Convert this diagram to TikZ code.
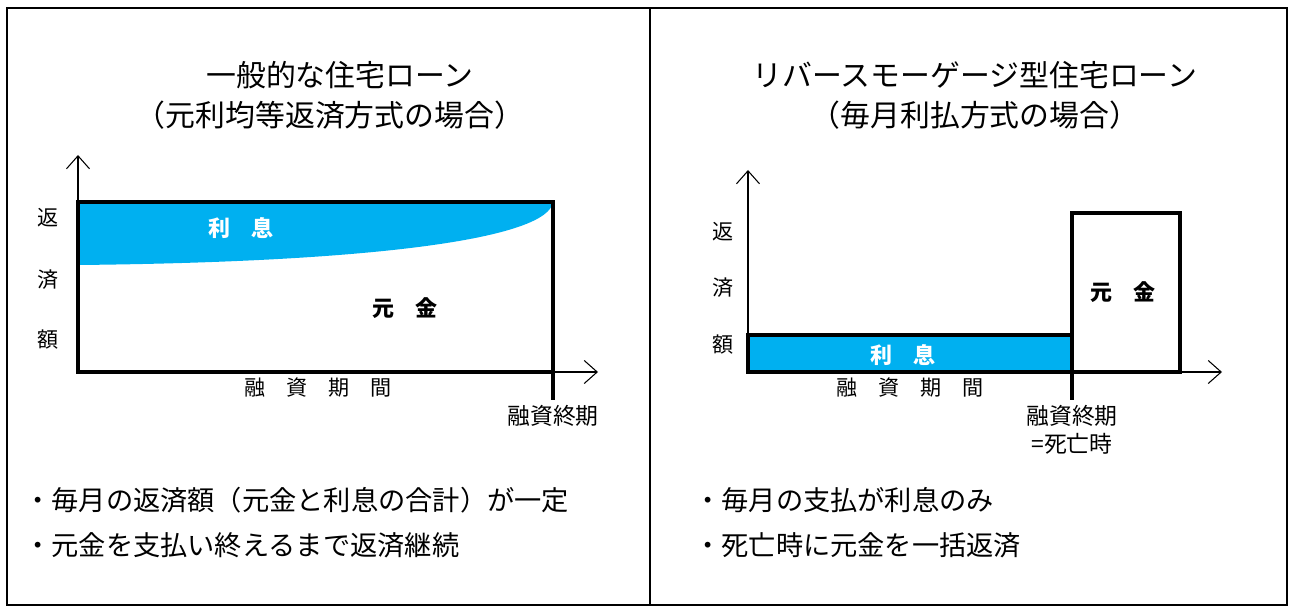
\documentclass[tikz,border=0pt]{standalone}
\usepackage{fontspec}
\setmainfont{Noto Sans CJK JP}
\usetikzlibrary{positioning,arrows.meta}
\definecolor{rikoblue}{HTML}{00B0F0}

\begin{document}
\begin{tikzpicture}[x=0.02cm, y=-0.02cm,
    titlenode/.style={font=\fontsize{17}{20}\selectfont, inner sep=0pt},
    axislabel/.style={font=\fontsize{12}{14}\selectfont, inner sep=0pt},
    boldlabel/.style={font=\fontsize{12.5}{15}\selectfont\bfseries, inner sep=0pt},
    notenode/.style={font=\fontsize{15.5}{18}\selectfont, inner sep=0pt, anchor=west},
    axisline/.style={line width=0.6pt, -{Straight Barb[length=2.6mm,width=4.6mm]}},
    thickbox/.style={line width=2.3pt}]
    \useasboundingbox (0,0) rectangle (1292,608);
    %Frame
    \draw[line width=0.9pt] (7,8) rectangle (1287,605);
    \draw[line width=0.9pt] (650,8) -- (650,605);

    %Left panel
    \coordinate (lo)   at (78,372);
    \coordinate (ltop) at (78,155);
    \coordinate (lend) at (598,372);
    \coordinate (lrt)  at (553,202);
    \coordinate (ltick) at (553,400);
    \fill[rikoblue] (78,202) -- (78,265) .. controls (380,262) and (548,238) .. (lrt) -- cycle;
    \draw[axisline] (lo) -- (ltop);
    \draw[axisline] (lo) -- (lend);
    \draw[thickbox] (lo) rectangle (lrt);
    \draw[thickbox] (553,372) -- (ltick);

    %Left nodes
    \node[titlenode] (ltitle1) at (340,75)  {一般的な住宅ローン};
    \node[titlenode] (ltitle2) at (330,115) {（元利均等返済方式の場合）};
    \node[boldlabel, text=white] (lint) at (241,228) {利\hspace{1em}息};
    \node[boldlabel] (lprin) at (405,308) {元\hspace{1em}金};
    \node[axislabel] (ly1) at (48,218) {返};
    \node[axislabel] (ly2) at (48,280) {済};
    \node[axislabel] (ly3) at (48,340) {額};
    \node[axislabel] (lx)  at (318,388) {融\hspace{1em}資\hspace{1em}期\hspace{1em}間};
    \node[axislabel, font=\fontsize{13}{16}\selectfont] (lendlab) [below=3pt of ltick] {融資終期};
    \node[notenode] (lnote1) at (24,500) {・毎月の返済額（元金と利息の合計）が一定};
    \node[notenode] (lnote2) at (24,545) {・元金を支払い終えるまで返済継続};

    %Right panel
    \coordinate (ro)   at (748,372);
    \coordinate (rtop) at (748,170);
    \coordinate (rend) at (1222,372);
    \coordinate (rmid) at (1072,372);
    \coordinate (rtick) at (1072,400);
    \draw[axisline] (ro) -- (rtop);
    \draw[axisline] (ro) -- (rend);
    \draw[thickbox, fill=rikoblue] (ro) rectangle (1072,335);
    \draw[thickbox] (rmid) rectangle (1180,213);
    \draw[thickbox] (rmid) -- (rtick);

    %Right nodes
    \node[titlenode] (rtitle1) at (975,75)  {リバースモーゲージ型住宅ローン};
    \node[titlenode] (rtitle2) at (975,115) {（毎月利払方式の場合）};
    \node[boldlabel, text=white] (rint) at (903,355) {利\hspace{1em}息};
    \node[boldlabel] (rprin) at (1123,292) {元\hspace{1em}金};
    \node[axislabel] (ry1) at (723,232) {返};
    \node[axislabel] (ry2) at (723,288) {済};
    \node[axislabel] (ry3) at (723,345) {額};
    \node[axislabel] (rx)  at (910,388) {融\hspace{1em}資\hspace{1em}期\hspace{1em}間};
    \node[axislabel, font=\fontsize{13}{16}\selectfont, align=center] (rendlab) [below=3pt of rtick] {融資終期\\=死亡時};
    \node[notenode] (rnote1) at (694,500) {・毎月の支払が利息のみ};
    \node[notenode] (rnote2) at (694,545) {・死亡時に元金を一括返済};
\end{tikzpicture}
\end{document}
